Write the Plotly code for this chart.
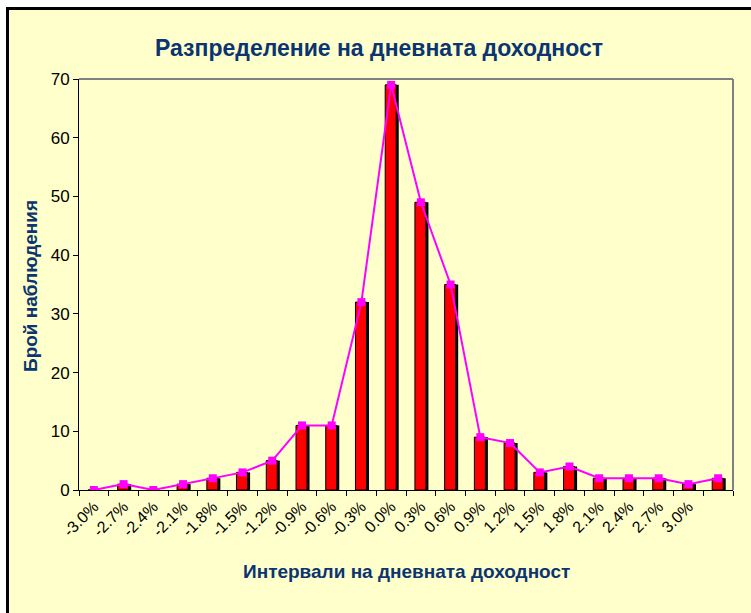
import plotly.graph_objects as go

categories = ["-3.0%", "-2.7%", "-2.4%", "-2.1%", "-1.8%", "-1.5%", "-1.2%", "-0.9%",
              "-0.6%", "-0.3%", "0.0%", "0.3%", "0.6%", "0.9%", "1.2%", "1.5%",
              "1.8%", "2.1%", "2.4%", "2.7%", "3.0%", " "]
counts = [0, 1, 0, 1, 2, 3, 5, 11, 11, 32, 69, 49, 35, 9, 8, 3, 4, 2, 2, 2, 1, 2]

title_text = "Разпределение на дневната доходност"
x_title = "Интервали на дневната доходност"
y_title = "Брой наблюдения"

navy = "#0A3570"
font_family = "Arial, Liberation Sans, sans-serif"

L, R, T, B = 79, 18, 79, 123
W, H = 751, 613
PW, PH = W - L - R, H - T - B


def px(xp):
    return (xp - L) / PW


def py(yp):
    return (H - B - yp) / PH


fig = go.Figure()
# shadow bars
fig.add_trace(go.Bar(x=categories, y=counts, width=0.37, offset=-0.115,
                     marker=dict(color="black", line=dict(width=0)),
                     hoverinfo="skip", showlegend=False))
# main bars
fig.add_trace(go.Bar(x=categories, y=counts, width=0.37, offset=-0.2,
                     marker=dict(color="#FF0000", line=dict(color="black", width=1)),
                     showlegend=False))
# line
fig.add_trace(go.Scatter(x=categories, y=counts, mode="lines+markers",
                         line=dict(color="#FF00FF", width=2),
                         marker=dict(symbol="square", size=8, color="#FF00FF"),
                         showlegend=False))

shapes = [
    dict(type="rect", xref="paper", yref="paper", x0=px(6), x1=px(770),
         y0=py(630), y1=py(7), fillcolor="#FFFFCC", line=dict(width=0), layer="below"),
    dict(type="line", xref="paper", yref="paper", x0=px(6), x1=px(770),
         y0=py(8.5), y1=py(8.5), line=dict(color="black", width=3), layer="above"),
    dict(type="line", xref="paper", yref="paper", x0=px(7.5), x1=px(7.5),
         y0=py(7), y1=py(630), line=dict(color="black", width=3), layer="above"),
    dict(type="line", xref="paper", yref="paper", x0=0, x1=1, y0=1, y1=1,
         line=dict(color="#808080", width=2), layer="above"),
    dict(type="line", xref="paper", yref="paper", x0=1, x1=1, y0=0, y1=1,
         line=dict(color="#808080", width=2), layer="above"),
]

annotations = [
    dict(text="<b>" + title_text + "</b>", xref="paper", yref="paper",
         x=px(379), y=py(48), xanchor="center", yanchor="middle", showarrow=False,
         font=dict(size=23, color=navy, family=font_family)),
    dict(text="<b>" + x_title + "</b>", xref="paper", yref="paper",
         x=px(406), y=py(571), xanchor="center", yanchor="middle", showarrow=False,
         font=dict(size=19, color=navy, family=font_family)),
    dict(text="<b>" + y_title + "</b>", xref="paper", yref="paper",
         x=px(30), y=py(286), xanchor="center", yanchor="middle", showarrow=False,
         textangle=-90, font=dict(size=19, color=navy, family=font_family)),
]

fig.update_layout(
    width=W, height=H,
    margin=dict(l=L, r=R, t=T, b=B, pad=0),
    paper_bgcolor="white",
    plot_bgcolor="rgba(0,0,0,0)",
    barmode="overlay",
    showlegend=False,
    shapes=shapes,
    annotations=annotations,
    font=dict(family=font_family, color="black", size=17),
    xaxis=dict(type="category", tickson="boundaries", ticks="outside", ticklen=5,
               tickcolor="black", showline=True, linecolor="black", linewidth=1,
               showgrid=False, tickangle=-45, tickfont=dict(size=16, color="black"),
               range=[-0.5, len(categories) - 0.5], zeroline=False, automargin=False),
    yaxis=dict(range=[0, 70], dtick=10, ticks="outside", ticklen=5, tickcolor="black",
               showline=True, linecolor="black", linewidth=1, showgrid=False,
               zeroline=False, tickfont=dict(size=17, color="black"), automargin=False),
)

fig.write_html("out.html", config={"displayModeBar": False},
               post_script="document.body.style.margin='0';document.body.style.overflow='hidden';")
